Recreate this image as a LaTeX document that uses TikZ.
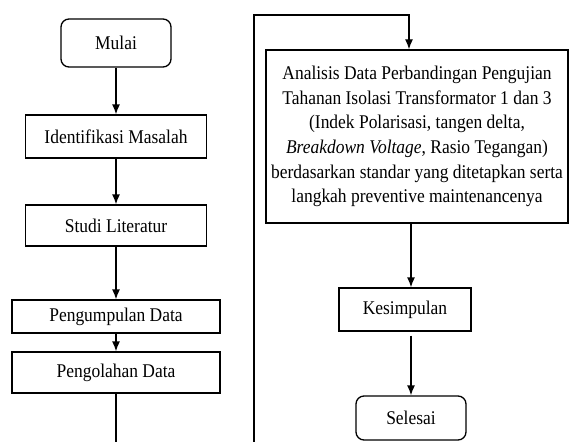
\documentclass[tikz,border=0pt]{standalone}
\usepackage{fontspec}
\setmainfont{Liberation Serif}[FakeStretch=0.9]
\usepackage{tikz}
\usetikzlibrary{shapes.geometric, arrows.meta}
\tikzstyle{startstop} = [font=\fontsize{19.4}{24.6}\selectfont, rectangle, rounded corners=8pt, minimum width=110pt, minimum height=48pt, text centered, draw=black, line width=1.3pt, fill=white]
\tikzstyle{process} = [font=\fontsize{19.4}{24.6}\selectfont, rectangle, minimum width=181pt, minimum height=43pt, text centered, draw=black, line width=1.3pt, fill=white, inner sep=2pt]
\tikzstyle{arrow} = [line width=1.3pt, -{Latex[length=10pt,width=8pt]}]

\begin{document}
\begin{tikzpicture}[node distance=90pt]
  \useasboundingbox (0pt,0pt) rectangle (569pt,-441pt);
  \node (mulai) [startstop] at (116pt,-43pt) {Mulai};
  \node (identifikasi) [process, below of=mulai, yshift=-3.5pt] {Identifikasi Masalah};
  \node (studi) [process, minimum height=41pt, below of=identifikasi, yshift=1pt] {Studi Literatur};
  \node (pengumpulan) [process, minimum width=208pt, minimum height=33pt, below of=studi, yshift=-1pt] {Pengumpulan Data};
  \node (pengolahan) [process, minimum width=208pt, minimum height=41pt, below of=pengumpulan, yshift=34pt] {Pengolahan Data};
  \node (analisis) [process, align=center, minimum width=302pt, minimum height=173pt, right of=identifikasi, xshift=211pt]{Analisis Data Perbandingan Pengujian\\
    Tahanan Isolasi Transformator 1 dan 3\\
    (Indek Polarisasi, tangen delta,\\
    \textit{Breakdown Voltage}, Rasio Tegangan)\\
    berdasarkan standar yang ditetapkan serta\\
    langkah preventive maintenancenya};
  \node (kesimpulan) [process, minimum width=132pt, minimum height=43pt, below of=analisis, yshift=-83pt, xshift=-12pt]{Kesimpulan};
  \node (selesai) [startstop, minimum width=110pt, minimum height=44pt, below of=kesimpulan, yshift=-18.5pt, xshift=6pt]{Selesai};
  \coordinate (bawah) at (254pt,-470pt);
  \coordinate (atas) at (254pt,-15pt);
  \draw[arrow](mulai) -- (identifikasi);
  \draw[arrow](identifikasi) -- (studi);
  \draw[arrow](studi) -- (pengumpulan);
  \draw[arrow](pengumpulan) -- (pengolahan);
  \draw[arrow](pengolahan.south) |- (bawah) -- (atas) -| ([xshift=-2pt]analisis.north -| selesai.north);
  \draw[arrow](analisis.south -| selesai.north) -- (kesimpulan.north -| selesai.north);
  \draw[arrow]([yshift=-4pt]kesimpulan.south -| selesai.north) -- (selesai);
\end{tikzpicture}
\end{document}
